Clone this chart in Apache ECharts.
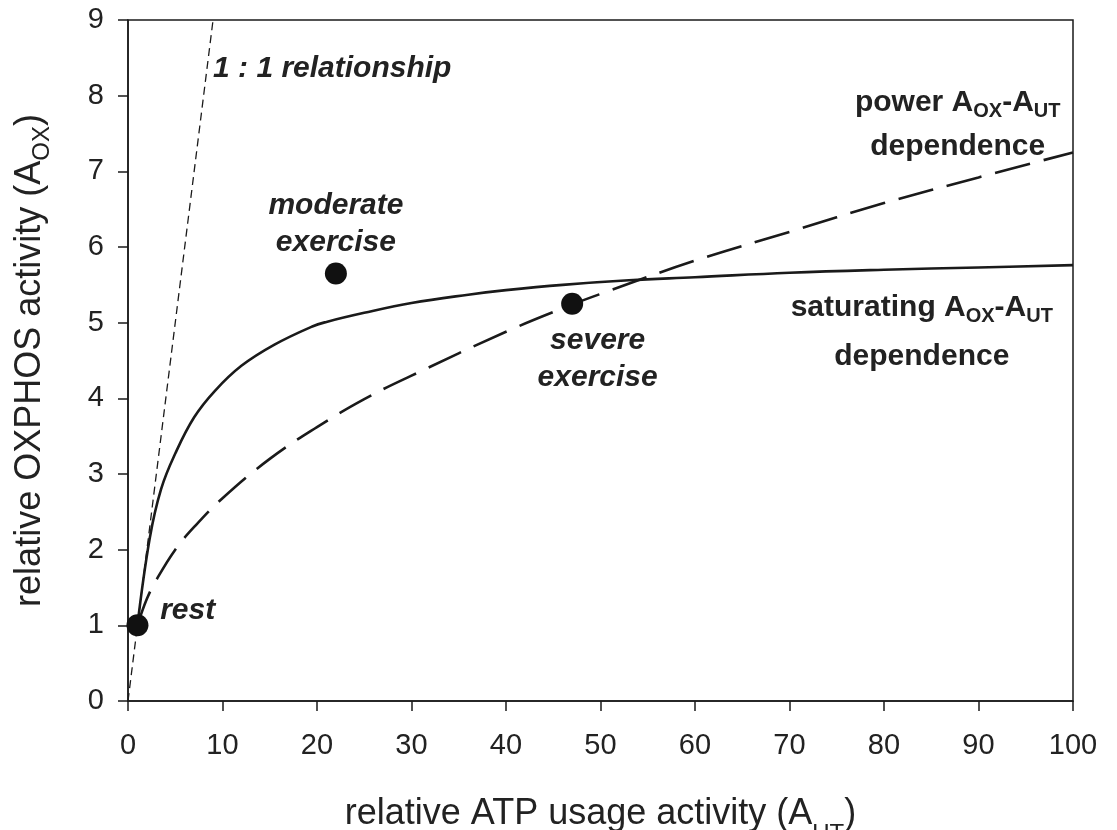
<!DOCTYPE html>
<html>
<head>
<meta charset="utf-8">
<script src="https://cdn.jsdelivr.net/npm/echarts@6/dist/echarts.min.js"></script>
<style>
  html, body { margin: 0; padding: 0; background: #fff; }
  #chart { width: 1117px; height: 830px; }
</style>
</head>
<body>
<div id="chart"></div>
<script>
// A_UT (relative ATP usage) -> A_OX (relative OXPHOS)
var oneToOne = [[0, 0], [9, 9]]
var saturating = [[1, 1], [2.3, 2.15], [3.5, 2.8], [5, 3.27], [7, 3.75], [9.2, 4.1], [12, 4.43], [15.5, 4.71], [19.5, 4.95], [21, 5.01], [25, 5.13], [30, 5.26], [36, 5.37], [40, 5.43], [46, 5.5], [53, 5.56], [60, 5.6], [70, 5.66], [80, 5.7], [90, 5.73], [100, 5.76]]
var power = [[1, 1], [2, 1.35], [3, 1.6], [5, 2.0], [7, 2.3], [10, 2.68], [15, 3.2], [20, 3.62], [25, 3.99], [30, 4.3], [40, 4.88], [47, 5.24], [50, 5.38], [60, 5.82], [70, 6.2], [80, 6.58], [90, 6.92], [100, 7.25]]
var stateNames = ['rest', 'moderate exercise', 'severe exercise']
var statePoints = [[1, 1], [22, 5.65], [47, 5.25]]

// text notes, anchored in data units
var notes = [
  { text: '{i|1 : 1 relationship}', at: [9.0, 8.36], pos: 'right', align: 'left' },
  { text: '{i|moderate}\n{i|exercise}', at: [22, 6.3], pos: 'inside', align: 'center' },
  { text: '{i|severe}\n{i|exercise}', at: [49.7, 4.52], pos: 'inside', align: 'center' },
  { text: '{i|rest}', at: [3.4, 1.19], pos: 'right', align: 'left' },
  { text: '{b|power A}{s|OX}{b|-A}{s|UT}\n{d|dependence}', at: [87.8, 7.62], pos: 'inside', align: 'center' },
  { text: '{b|saturating A}{s|OX}{b|-A}{s|UT}\n{e|dependence}', at: [84.0, 4.88], pos: 'inside', align: 'center' }
]

var font = 'Liberation Sans, Arial, sans-serif'
var ink = '#1a1a1a'

var myChart = echarts.init(document.getElementById('chart'))

var option = {
  animation: false,
  backgroundColor: '#fff',
  grid: {
    left: 128,
    right: 44,
    top: 20,
    bottom: 129,
    outerBoundsMode: 'none',
    containLabel: false,
    show: true,
    borderColor: ink,
    borderWidth: 1.5
  },
  xAxis: {
    type: 'value',
    min: 0,
    max: 100,
    interval: 10,
    name: '{n|relative ATP usage activity (A}{s|UT}{n|)}',
    nameLocation: 'middle',
    nameGap: 95,
    nameTextStyle: {
      rich: {
        n: { fontFamily: font, fontSize: 36, color: '#222', lineHeight: 36, verticalAlign: 'top' },
        s: { fontFamily: font, fontSize: 24, color: '#222', lineHeight: 50, verticalAlign: 'bottom' }
      }
    },
    axisLine: { lineStyle: { color: ink, width: 1.5 } },
    axisTick: { length: 10, lineStyle: { color: ink, width: 1.5 } },
    axisLabel: { margin: 30, fontFamily: font, fontSize: 29, color: '#222' },
    splitLine: { show: false }
  },
  yAxis: {
    type: 'value',
    min: 0,
    max: 9,
    interval: 1,
    name: '{n|relative OXPHOS activity (A}{s|OX}{n|)}',
    nameLocation: 'middle',
    nameGap: 74,
    nameTextStyle: {
      rich: {
        n: { fontFamily: font, fontSize: 36, color: '#222', lineHeight: 36, verticalAlign: 'top' },
        s: { fontFamily: font, fontSize: 24, color: '#222', lineHeight: 42, verticalAlign: 'bottom' }
      }
    },
    axisLine: { lineStyle: { color: ink, width: 1.5 } },
    axisTick: { length: 10, lineStyle: { color: ink, width: 1.5 } },
    axisLabel: { margin: 24, fontFamily: font, fontSize: 29, color: '#222' },
    splitLine: { show: false }
  },
  series: [
    {
      name: '1 : 1',
      type: 'line',
      data: oneToOne,
      showSymbol: false,
      lineStyle: { color: ink, width: 1.3, type: [8, 5] }
    },
    {
      name: 'saturating',
      type: 'line',
      data: saturating,
      showSymbol: false,
      smooth: 0.4,
      lineStyle: { color: ink, width: 2.6 }
    },
    {
      name: 'power',
      type: 'line',
      data: power,
      showSymbol: false,
      smooth: 0.4,
      lineStyle: { color: ink, width: 2.6, type: [36, 14] }
    },
    {
      name: 'states',
      type: 'scatter',
      data: statePoints.map(function (p, i) { return { name: stateNames[i], value: p } }),
      symbolSize: 22,
      itemStyle: { color: '#111', opacity: 1 },
      z: 5
    },
    {
      name: 'notes',
      type: 'scatter',
      silent: true,
      symbolSize: 0,
      itemStyle: { opacity: 1 },
      data: notes.map(function (n) {
        return {
          value: n.at,
          label: { show: true, position: n.pos, align: n.align, distance: 0, formatter: n.text }
        }
      }),
      label: {
        show: true,
        rich: {
          i: { fontFamily: font, fontSize: 30, fontWeight: 'bold', fontStyle: 'italic', color: '#222', lineHeight: 37 },
          b: { fontFamily: font, fontSize: 30, fontWeight: 'bold', color: '#222', lineHeight: 30, verticalAlign: 'top' },
          s: { fontFamily: font, fontSize: 20, fontWeight: 'bold', color: '#222', lineHeight: 34, verticalAlign: 'bottom' },
          d: { fontFamily: font, fontSize: 30, fontWeight: 'bold', color: '#222', lineHeight: 40, verticalAlign: 'bottom' },
          e: { fontFamily: font, fontSize: 30, fontWeight: 'bold', color: '#222', lineHeight: 45, verticalAlign: 'bottom' }
        }
      },
      z: 6
    }
  ]
}

myChart.setOption(option)
</script>
</body>
</html>
